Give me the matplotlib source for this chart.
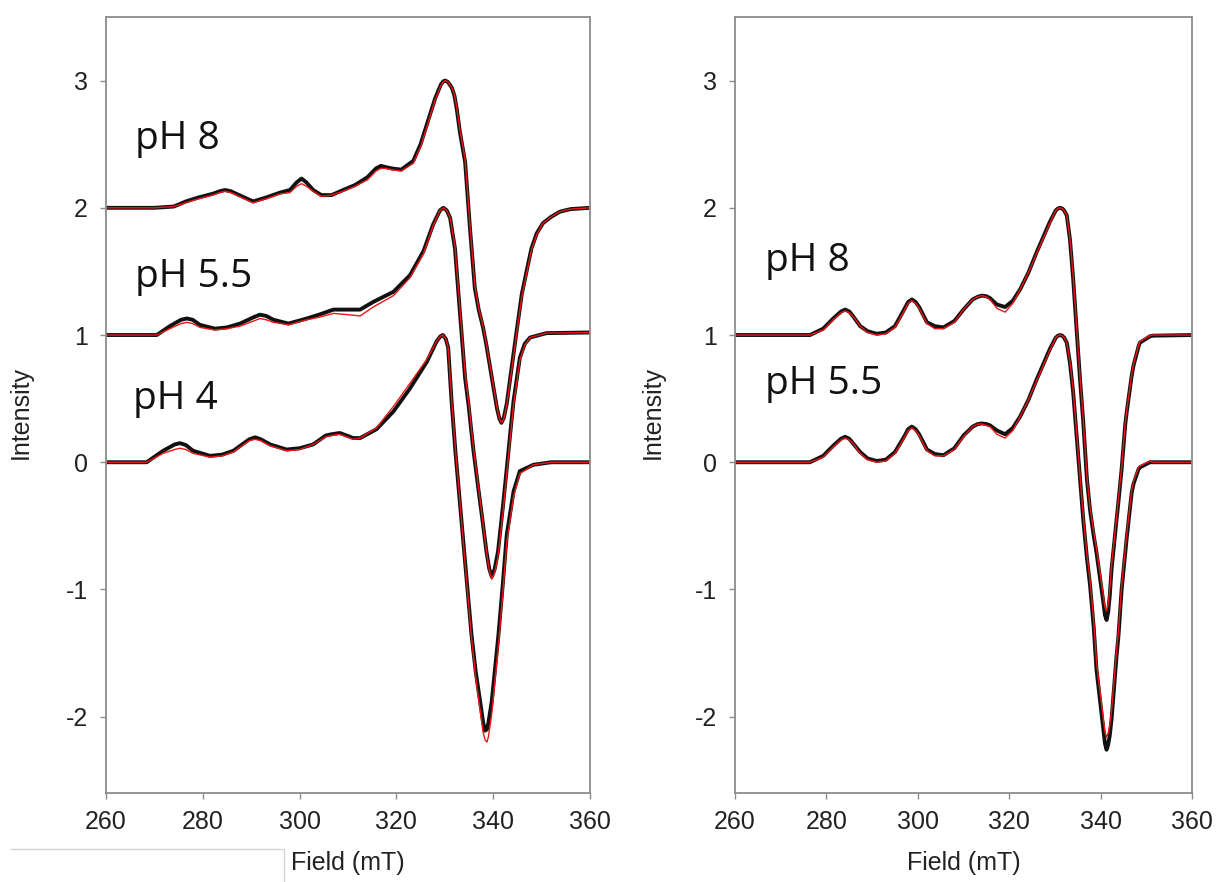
import matplotlib
matplotlib.use("Agg")
import matplotlib.pyplot as plt
from matplotlib.lines import Line2D

plt.rcParams['axes.unicode_minus'] = False

# Left panel: spectra at three pH values (offset by 2, 1, 0)
# -----------------------------------------------------------
field_L8 = [260, 270, 274, 276.5, 279, 282, 283.5, 284.6, 285.8, 287.5,
            290.4, 293, 296, 298, 299.4, 300.4, 301.4, 302.8, 304.5, 306.6,
            309, 311.5, 314, 315.8, 316.8, 317.8, 319, 321, 323.5, 325,
            326.5, 328, 329.2, 329.7, 330.1, 330.6, 331.0, 331.5, 332.0, 332.5,
            333.1, 334.2, 335.2, 336.2, 337.0, 337.9, 338.6, 339.3, 340.0, 340.8,
            341.3, 341.7, 342.2, 342.8, 343.8, 344.8, 345.9, 347.0, 347.9, 349.0,
            350.3, 352.0, 353.8, 356, 360]
exp_L8 = [2.0, 2.0, 2.01, 2.05, 2.08, 2.11, 2.13, 2.14, 2.13, 2.10,
          2.05, 2.08, 2.12, 2.14, 2.20, 2.23, 2.20, 2.14, 2.10, 2.10,
          2.14, 2.18, 2.24, 2.31, 2.33, 2.32, 2.31, 2.30, 2.37, 2.50,
          2.68, 2.86, 2.97, 2.995, 3.00, 2.99, 2.97, 2.94, 2.88, 2.77,
          2.60, 2.36, 1.84, 1.37, 1.20, 1.06, 0.92, 0.76, 0.60, 0.42,
          0.34, 0.31, 0.35, 0.46, 0.74, 1.02, 1.32, 1.52, 1.68, 1.80,
          1.88, 1.93, 1.97, 1.99, 2.0]
fit_L8 = [2.0, 2.0, 2.01, 2.04, 2.07, 2.10, 2.12, 2.13, 2.12, 2.09,
          2.04, 2.07, 2.11, 2.12, 2.17, 2.19, 2.17, 2.13, 2.09, 2.10,
          2.13, 2.17, 2.22, 2.29, 2.31, 2.31, 2.30, 2.29, 2.35, 2.48,
          2.66, 2.85, 2.96, 2.99, 3.00, 2.99, 2.97, 2.94, 2.89, 2.78,
          2.62, 2.38, 1.86, 1.39, 1.21, 1.07, 0.93, 0.77, 0.61, 0.43,
          0.34, 0.31, 0.34, 0.45, 0.72, 1.00, 1.30, 1.50, 1.67, 1.79,
          1.88, 1.93, 1.97, 1.99, 2.0]

field_L55 = [260, 270.5, 273.2, 275.5, 276.7, 277.9, 279.4, 282.5, 285, 287.7,
             290.5, 291.8, 293.1, 294.6, 297.7, 301.5, 304, 307, 310, 312.5,
             315.2, 319.4, 322.8, 325.6, 327.6, 329.0, 329.7, 330.4, 331.1, 332.1,
             333.1, 334.2, 334.9, 335.9, 336.9, 337.8, 338.6, 339.2, 339.7, 340.3,
             341.0, 342.0, 342.8, 343.5, 344.2, 345.5, 346.5, 347.6, 351.0, 360]
exp_L55 = [1.0, 1.0, 1.07, 1.12, 1.13, 1.12, 1.08, 1.05, 1.06, 1.09,
           1.14, 1.16, 1.15, 1.12, 1.09, 1.13, 1.16, 1.20, 1.20, 1.20,
           1.26, 1.34, 1.47, 1.66, 1.87, 1.98, 2.00, 1.98, 1.92, 1.68,
           1.19, 0.66, 0.45, 0.10, -0.20, -0.46, -0.70, -0.84, -0.90, -0.84,
           -0.70, -0.35, -0.05, 0.22, 0.48, 0.82, 0.93, 0.98, 1.015, 1.02]
fit_L55 = [1.0, 1.0, 1.05, 1.09, 1.10, 1.09, 1.06, 1.04, 1.05, 1.07,
           1.11, 1.13, 1.12, 1.10, 1.08, 1.12, 1.14, 1.17, 1.16, 1.15,
           1.22, 1.31, 1.45, 1.64, 1.86, 1.98, 2.00, 1.98, 1.92, 1.70,
           1.22, 0.69, 0.48, 0.12, -0.18, -0.45, -0.70, -0.85, -0.92, -0.87,
           -0.74, -0.40, -0.09, 0.18, 0.45, 0.80, 0.92, 0.98, 1.015, 1.02]

field_L4 = [260, 268.4, 271.8, 274.2, 275.3, 276.5, 278.0, 281.5, 284, 286.3,
            289.6, 290.8, 292.0, 293.9, 297.3, 300, 302.8, 305.4, 306.6, 308.3,
            311.1, 312.5, 315.9, 319.4, 322.8, 326.3, 328.3, 329.1, 329.6, 330.2,
            330.7, 331.4, 332.2, 333.1, 334.3, 335.5, 336.4, 337.3, 337.9, 338.3,
            338.7, 339.0, 339.7, 341.1, 342.0, 342.8, 344.2, 345.5, 348.3, 352,
            360]
exp_L4 = [0.0, 0.0, 0.09, 0.14, 0.15, 0.135, 0.09, 0.05, 0.06, 0.09,
          0.18, 0.196, 0.18, 0.14, 0.10, 0.11, 0.14, 0.21, 0.22, 0.23,
          0.19, 0.19, 0.26, 0.40, 0.58, 0.79, 0.95, 0.99, 1.0, 0.97,
          0.90, 0.48, 0.08, -0.31, -0.83, -1.35, -1.65, -1.88, -2.04, -2.11,
          -2.10, -2.05, -1.88, -1.35, -0.95, -0.57, -0.23, -0.07, -0.02, 0.0,
          0.0]
fit_L4 = [0.0, 0.0, 0.07, 0.10, 0.11, 0.10, 0.07, 0.04, 0.05, 0.08,
          0.17, 0.18, 0.17, 0.13, 0.09, 0.10, 0.14, 0.20, 0.21, 0.22,
          0.18, 0.19, 0.27, 0.44, 0.62, 0.81, 0.95, 0.99, 1.0, 0.97,
          0.90, 0.50, 0.10, -0.30, -0.84, -1.37, -1.70, -1.95, -2.12, -2.18,
          -2.20, -2.16, -1.98, -1.43, -1.02, -0.63, -0.27, -0.09, -0.02, 0.0,
          0.0]

# Right panel: spectra at two pH values (offset by 1, 0)
# ------------------------------------------------------
field_R = [260, 276.4, 279.3, 281.5, 283.2, 284.1, 285.0, 285.8, 287.4, 289,
           291.0, 293, 295.0, 297, 297.9, 298.7, 299.5, 300.3, 302.0, 303.7,
           305.6, 308, 310.0, 312, 313.1, 314.0, 315.0, 315.8, 317.3, 319.1,
           320.8, 322.4, 324.2, 326.0, 328.9, 330.2, 330.7, 331.1, 331.6, 332.0,
           332.6, 333.3, 334.0, 335.5, 336.2, 337.0, 337.7, 338.5, 339.1, 340.6,
           340.95, 341.3, 341.65, 342.0, 342.4, 343.5, 343.9, 344.6, 345.4, 345.7,
           346.8, 347.2, 348.3, 348.6, 350.8, 351.5, 360]
exp_R8 = [1.0, 1.0, 1.05, 1.13, 1.185, 1.20, 1.185, 1.15, 1.07, 1.03,
          1.01, 1.02, 1.07, 1.20, 1.26, 1.28, 1.26, 1.22, 1.10, 1.07,
          1.06, 1.11, 1.20, 1.28, 1.30, 1.31, 1.305, 1.29, 1.24, 1.22,
          1.27, 1.36, 1.49, 1.65, 1.89, 1.98, 1.995, 2.0, 1.995, 1.98,
          1.94, 1.75, 1.44, 0.65, 0.32, -0.13, -0.38, -0.58, -0.71, -1.10,
          -1.20, -1.24, -1.18, -1.05, -0.84, -0.45, -0.31, -0.055, 0.30, 0.39,
          0.68, 0.76, 0.91, 0.94, 0.99, 0.995, 1.0]
fit_R8 = [1.0, 1.0, 1.04, 1.12, 1.175, 1.19, 1.175, 1.15, 1.07, 1.02,
          1.00, 1.01, 1.06, 1.19, 1.25, 1.27, 1.25, 1.21, 1.09, 1.05,
          1.05, 1.10, 1.20, 1.28, 1.30, 1.31, 1.30, 1.28, 1.21, 1.18,
          1.25, 1.36, 1.49, 1.64, 1.88, 1.98, 1.995, 2.0, 1.995, 1.98,
          1.94, 1.76, 1.46, 0.67, 0.34, -0.11, -0.36, -0.55, -0.68, -1.05,
          -1.14, -1.17, -1.12, -1.00, -0.81, -0.43, -0.29, -0.04, 0.31, 0.40,
          0.69, 0.77, 0.92, 0.95, 0.995, 1.0, 1.0]
exp_R55 = [0.0, 0.0, 0.05, 0.13, 0.185, 0.20, 0.185, 0.15, 0.08, 0.03,
           0.01, 0.02, 0.08, 0.20, 0.26, 0.28, 0.26, 0.22, 0.10, 0.065,
           0.055, 0.11, 0.21, 0.28, 0.30, 0.305, 0.30, 0.29, 0.25, 0.22,
           0.27, 0.36, 0.49, 0.65, 0.89, 0.98, 0.995, 1.0, 0.995, 0.98,
           0.94, 0.78, 0.55, -0.13, -0.45, -0.75, -0.97, -1.30, -1.63, -2.10,
           -2.21, -2.26, -2.22, -2.15, -2.02, -1.52, -1.37, -1.00, -0.71, -0.60,
           -0.24, -0.17, -0.055, -0.04, 0.0, 0.0, 0.0]
fit_R55 = [0.0, 0.0, 0.04, 0.12, 0.175, 0.19, 0.175, 0.15, 0.07, 0.02,
           0.00, 0.01, 0.07, 0.19, 0.25, 0.27, 0.25, 0.21, 0.09, 0.05,
           0.05, 0.10, 0.20, 0.28, 0.30, 0.30, 0.29, 0.28, 0.22, 0.19,
           0.25, 0.36, 0.49, 0.64, 0.88, 0.98, 0.995, 1.0, 0.995, 0.98,
           0.94, 0.79, 0.57, -0.11, -0.42, -0.72, -0.93, -1.25, -1.57, -2.02,
           -2.12, -2.16, -2.13, -2.07, -1.95, -1.48, -1.33, -0.97, -0.68, -0.57,
           -0.22, -0.15, -0.04, -0.03, 0.01, 0.0, 0.0]

labels_L = ["pH 8", "pH 5.5", "pH 4"]
label_pos_L = [(266.0, 2.46), (266.0, 1.38), (265.6, 0.42)]
labels_R = ["pH 8", "pH 5.5"]
label_pos_R = [(266.6, 1.50), (266.6, 0.535)]

xticks = [260, 280, 300, 320, 340, 360]
yticks = [-2, -1, 0, 1, 2, 3]

# figure settings
black_c = '#111111'
red_c = '#ee1515'
frame_c = '#8c8c8c'
lw_exp = 2.8
lw_fit = 1.0
tick_font = 'Liberation Sans'
fig = plt.figure(figsize=(12.17, 8.82), dpi=100)
ax_l = fig.add_axes([106/1217, 89/882, 484/1217, 776/882])
ax_r = fig.add_axes([735/1217, 89/882, 457/1217, 776/882])

curves_l = [(field_L8, exp_L8, fit_L8), (field_L55, exp_L55, fit_L55), (field_L4, exp_L4, fit_L4)]
curves_r = [(field_R, exp_R8, fit_R8), (field_R, exp_R55, fit_R55)]

for ax, curves, labels, label_pos in [(ax_l, curves_l, labels_L, label_pos_L),
                                      (ax_r, curves_r, labels_R, label_pos_R)]:
	for fx, ey, fy in curves:
		ax.plot(fx, ey, color=black_c, linewidth=lw_exp, solid_joinstyle='round', solid_capstyle='round')
		ax.plot(fx, fy, color=red_c, linewidth=lw_fit, solid_joinstyle='round')
	for txt, (tx, ty) in zip(labels, label_pos):
		ax.text(tx, ty, txt, fontsize=28, family='Open Sans', ha='left', va='baseline', color='#111111')

	ax.set_xlim(260, 360)
	ax.set_ylim(-2.6, 3.5)
	ax.set_xticks(xticks)
	ax.set_yticks(yticks)
	for sp in ax.spines.values():
		sp.set_color(frame_c)
		sp.set_linewidth(1.3)
	ax.tick_params(direction='out', length=4, width=1.0, color=frame_c,
	               labelsize=18, labelcolor='#222222')
	ax.tick_params(axis='x', pad=8)
	ax.tick_params(axis='y', pad=9)
	for lab in ax.get_xticklabels() + ax.get_yticklabels():
		lab.set_family(tick_font)
	ax.set_xlabel('Field (mT)', fontsize=18, family=tick_font, color='#222222')
	ax.set_ylabel('Intensity', fontsize=18, family=tick_font, color='#222222')
	ax.xaxis.set_label_coords(0.5, -0.075)

ax_l.yaxis.set_label_coords(-0.151, 0.49)
ax_r.yaxis.set_label_coords(-0.153, 0.49)

# faint box edge at the bottom left of the original figure
fig.add_artist(Line2D([11/1217, 284/1217, 284/1217], [1 - 849/882, 1 - 849/882, 0],
                      transform=fig.transFigure, color='#d4d4d4', linewidth=1.0))

plt.savefig('out.png', dpi=100, facecolor='w')
